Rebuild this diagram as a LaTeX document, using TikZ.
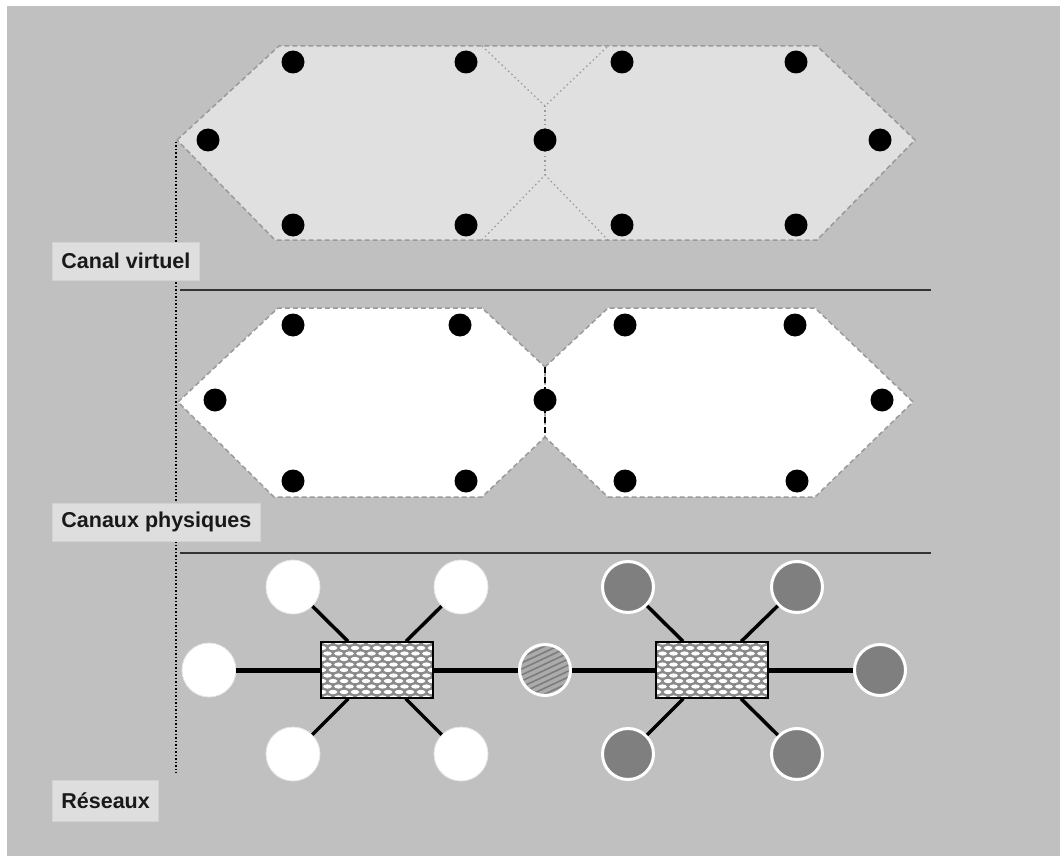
\documentclass[tikz,border=0pt]{standalone}
\usepackage{fontspec}
\setmainfont{Liberation Sans}
\definecolor{bgc}{HTML}{C0C0C0}
\definecolor{vfill}{HTML}{E0E0E0}
\definecolor{hexline}{HTML}{9A9A9A}
\definecolor{lblfill}{HTML}{DEDEDE}
\definecolor{lblline}{HTML}{D2D2D2}
\definecolor{meshbg}{HTML}{8A8A8A}
\definecolor{hatchfill}{HTML}{ABABAB}
\definecolor{hatchline}{HTML}{7C7C7C}
\definecolor{darkc}{HTML}{7F7F7F}
\tikzset{
  hexborder/.style={draw=hexline, line width=1.5pt, dash pattern=on 5pt off 3pt},
  innerdot/.style={draw=hexline, line width=1.2pt, dash pattern=on 1.5pt off 3pt},
  dot/.style={circle, fill=black, inner sep=0pt, minimum size=23pt},
  lbl/.style={fill=lblfill, draw=lblline, line width=0.8pt, inner xsep=9pt, inner ysep=0pt,
    minimum height=38pt, anchor=west, text=black!90,
    font=\fontsize{21.5pt}{21.5pt}\selectfont\bfseries},
  sepline/.style={draw=black!80, line width=1.6pt},
  vdots/.style={draw=black, line width=1.3pt, dash pattern=on 1.5pt off 2pt},
  wcirc/.style={circle, fill=white, draw=white!90!black, line width=0.8pt, inner sep=0pt, minimum size=54pt},
  gcirc/.style={circle, fill=darkc, draw=white, line width=3pt, inner sep=0pt, minimum size=51pt},
  hcirc/.style={circle, fill=hatchfill, draw=white, line width=3pt, inner sep=0pt, minimum size=51pt,
    path picture={
      \begin{scope}[shift={(path picture bounding box.center)}]
        \foreach \k in {-48,-42,...,48} {
          \draw[hatchline, line width=1.6pt] (-32,\k+15) -- (32,\k-15);
        }
      \end{scope}
    }},
  switchbox/.style={rectangle, draw=black, line width=1.3pt, fill=meshbg, inner sep=0pt,
    minimum width=112pt, minimum height=56pt,
    path picture={
      \begin{scope}[shift={(path picture bounding box.center)}]
        \foreach \j in {-6,...,6} {
          \pgfmathsetmacro{\off}{mod(abs(\j),2)*5.5}
          \foreach \i in {-7,...,7} {
            \fill[white] (\i*11+\off,\j*5.5) ellipse [x radius=4.3pt, y radius=2.1pt];
          }
        }
      \end{scope}
    }},
  thickl/.style={draw=black, line width=5pt},
  diagl/.style={draw=black, line width=3.5pt},
}
\begin{document}
\begin{tikzpicture}[x=1pt,y=-1pt]
\useasboundingbox (0,0) rectangle (1060,856);
\fill[white] (0,0) rectangle (1060,856);
\fill[bgc] (7,6) rectangle (1060,856);

% ---------- virtual channel ----------
\draw[hexborder, fill=vfill] (177,140) -- (279,46) -- (817,46) -- (915,140) -- (817,240) -- (275,240) -- cycle;
\draw[innerdot] (482,46) -- (545,106) -- (608,46);
\draw[innerdot] (545,106) -- (545,175);
\draw[innerdot] (482,240) -- (545,175) -- (608,240);

\node[dot] (v1) at (293,62) {};
\node[dot] (v2) at (466,62) {};
\node[dot] (v3) at (622,62) {};
\node[dot] (v4) at (796,62) {};
\node[dot] (v5) at (208,140) {};
\node[dot] (v6) at (545,140) {};
\node[dot] (v7) at (880,140) {};
\node[dot] (v8) at (293,225) {};
\node[dot] (v9) at (466,225) {};
\node[dot] (v10) at (622,225) {};
\node[dot] (v11) at (796,225) {};

% ---------- physical channels ----------
\draw[hexborder, fill=white] (178,402) -- (278,308) -- (482,308) -- (545,367) -- (545,437) -- (482,497) -- (274,497) -- cycle;
\draw[hexborder, fill=white] (545,367) -- (608,308) -- (815,308) -- (913,402) -- (815,497) -- (608,497) -- (545,437) -- cycle;
\draw[draw=black, line width=1.5pt, dash pattern=on 6pt off 4pt] (545,367) -- (545,437);

\node[dot] (p1) at (293,325) {};
\node[dot] (p2) at (460,325) {};
\node[dot] (p3) at (625,325) {};
\node[dot] (p4) at (795,325) {};
\node[dot] (p5) at (215,400) {};
\node[dot] (p6) at (545,400) {};
\node[dot] (p7) at (882,400) {};
\node[dot] (p8) at (293,481) {};
\node[dot] (p9) at (466,481) {};
\node[dot] (p10) at (625,481) {};
\node[dot] (p11) at (797,481) {};

% ---------- separators and vertical dotted line ----------
\draw[sepline] (180,290) -- (931,290);
\draw[sepline] (180,553) -- (931,553);
\draw[vdots] (176,142) -- (176,773);

% ---------- labels ----------
\node[lbl] (l1) at (52,261) {Canal virtuel};
\node[lbl] (l2) at (52,522) {Canaux physiques};
\node[lbl, minimum height=41pt] (l3) at (52,801) {Réseaux};

% ---------- networks ----------
\node[switchbox] (s1) at (377,670) {};
\node[switchbox] (s2) at (712,670) {};

\node[wcirc] (a1) at (293,587) {};
\node[wcirc] (a2) at (461,587) {};
\node[wcirc] (a3) at (209,670) {};
\node[wcirc] (a4) at (293,754) {};
\node[wcirc] (a5) at (461,754) {};

\node[hcirc] (h) at (545,670) {};

\node[gcirc] (b1) at (628,587) {};
\node[gcirc] (b2) at (797,587) {};
\node[gcirc] (b3) at (880,670) {};
\node[gcirc] (b4) at (628,754) {};
\node[gcirc] (b5) at (797,754) {};

\draw[thickl] (a3) -- (s1);
\draw[thickl] (s1) -- (h);
\draw[thickl] (h) -- (s2);
\draw[thickl] (s2) -- (b3);
\draw[diagl] (a1) -- (s1);
\draw[diagl] (a2) -- (s1);
\draw[diagl] (a4) -- (s1);
\draw[diagl] (a5) -- (s1);
\draw[diagl] (b1) -- (s2);
\draw[diagl] (b2) -- (s2);
\draw[diagl] (b4) -- (s2);
\draw[diagl] (b5) -- (s2);
\end{tikzpicture}
\end{document}
